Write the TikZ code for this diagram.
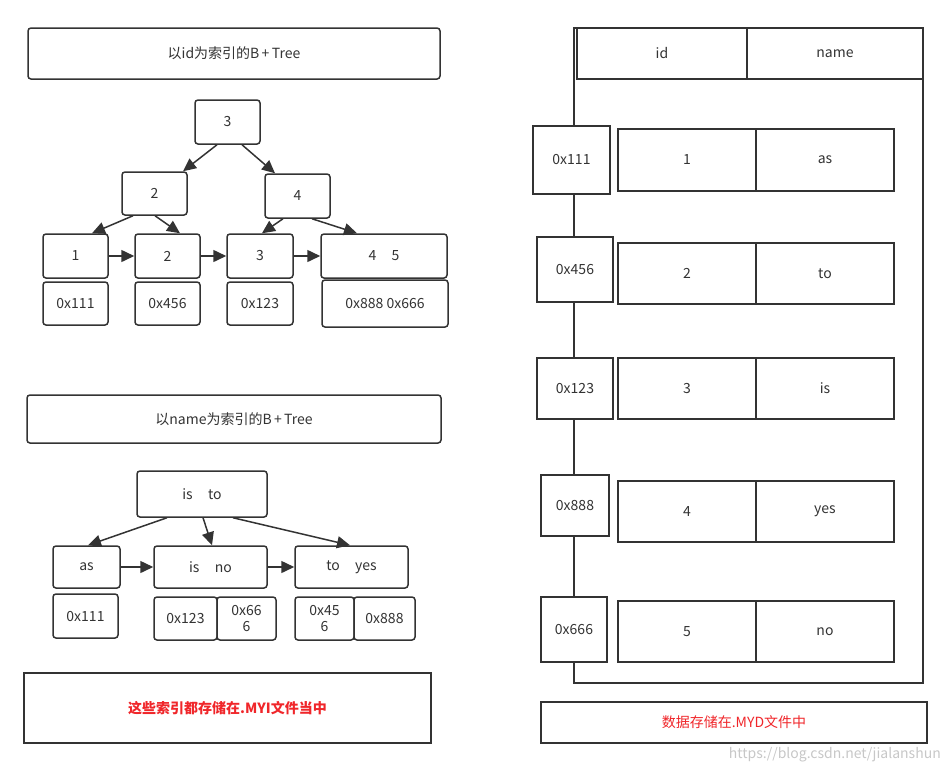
\documentclass[tikz,border=0pt]{standalone}
\usepackage{fontspec}
\setmainfont{Noto Sans CJK SC}
\usetikzlibrary{arrows.meta,calc}
\definecolor{ln}{HTML}{333333}
\definecolor{redtxt}{HTML}{F0262A}
\newcommand{\myfs}{\fontsize{14}{16}\selectfont}
\begin{document}
\begin{tikzpicture}[x=1pt,y=-1pt,
  rbox/.style={draw=ln, line width=1.5pt, rounded corners=3pt, fill=white, inner sep=0pt, font=\myfs, text=ln, align=center},
  sbox/.style={draw=ln, line width=1.5pt, fill=white, inner sep=0pt, font=\myfs, text=ln, align=center},
  arr/.style={draw=ln, line width=1.5pt, -{Triangle[length=13pt,width=12pt]}},
  frame/.style={draw=ln, line width=1.5pt}]
\useasboundingbox (0,0) rectangle (946,772);

% ---------- id B+Tree ----------
\node[rbox, minimum width=412pt, minimum height=51pt] (t1) at (234,53.5) {以id为索引的B\,+\,Tree};
\node[rbox, minimum width=65pt, minimum height=44pt] (r3) at (227.5,122) {3};
\node[rbox, minimum width=65pt, minimum height=43pt] (n2) at (154.5,193.5) {2};
\node[rbox, minimum width=65pt, minimum height=44pt] (n4) at (297.5,196) {4};
\node[rbox, minimum width=65pt, minimum height=44pt] (l1) at (75.5,256) {1};
\node[rbox, minimum width=65pt, minimum height=44pt] (l2) at (167.5,256) {2};
\node[rbox, minimum width=66pt, minimum height=44pt] (l3) at (260,256) {3};
\node[rbox, minimum width=126pt, minimum height=44pt] (l45) at (384,256) {4\hspace{1.1em}5};
\node[rbox, minimum width=65pt, minimum height=43pt] (p1) at (75.5,303.5) {0x111};
\node[rbox, minimum width=65pt, minimum height=43pt] (p2) at (167.5,303.5) {0x456};
\node[rbox, minimum width=66pt, minimum height=43pt] (p3) at (260,303.5) {0x123};
\node[rbox, minimum width=126pt, minimum height=47pt] (p45) at (385,303.5) {0x888 0x666};

\draw[arr] ($(r3.south)+(-10.5,0)$) -- ($(n2.north)+(28.5,0)$);
\draw[arr] ($(r3.south)+(14.5,0)$) -- ($(n4.north)+(-22.5,0)$);
\draw[arr] ($(n2.south)+(-21.5,0)$) -- ($(l1.north)+(16.5,0)$);
\draw[arr] ($(n2.south)+(0.5,0)$) -- ($(l2.north)+(12.5,0)$);
\draw[arr] ($(n4.south)+(-14.5,0)$) -- ($(l3.north)+(2,0)$);
\draw[arr] ($(n4.south)+(14.5,0)$) -- ($(l45.north)+(-27,0)$);
\draw[arr] (l1.east) -- (l2.west);
\draw[arr] (l2.east) -- (l3.west);
\draw[arr] (l3.east) -- (l45.west);

% ---------- name B+Tree ----------
\node[rbox, minimum width=414pt, minimum height=48pt] (t2) at (234,419) {以name为索引的B\,+\,Tree};
\node[rbox, minimum width=130pt, minimum height=46pt] (qr) at (202,494) {is\hspace{1.1em}to};
\node[rbox, minimum width=67pt, minimum height=42pt] (qas) at (86.5,567) {as};
\node[rbox, minimum width=113pt, minimum height=42pt] (qisno) at (210.5,567) {is\hspace{1.1em}no};
\node[rbox, minimum width=113pt, minimum height=42pt] (qtoyes) at (351.5,567) {to\hspace{1.1em}yes};
\node[rbox, minimum width=65pt, minimum height=44pt] (qp1) at (85.5,616) {0x111};
\node[rbox, minimum width=63pt, minimum height=43pt] (qp123) at (185.5,618.5) {0x123};
\node[rbox, minimum width=59pt, minimum height=43pt] (qp666) at (246.5,618.5) {0x66\\6};
\node[rbox, minimum width=59pt, minimum height=43pt] (qp456) at (324.5,618.5) {0x45\\6};
\node[rbox, minimum width=61pt, minimum height=43pt] (qp888) at (384.5,618.5) {0x888};

\draw[arr] ($(qr.south)+(-35,0)$) -- ($(qas.north)+(1.5,0)$);
\draw[arr] ($(qr.south)+(1,0)$) -- ($(qisno.north)+(1.5,0)$);
\draw[arr] ($(qr.south)+(31,0)$) -- ($(qtoyes.north)+(-1.5,0)$);
\draw[arr] (qas.east) -- (qisno.west);
\draw[arr] (qisno.east) -- (qtoyes.west);

\node[sbox, minimum width=407pt, minimum height=70pt, text=redtxt, font=\myfs\bfseries] (myi) at (227.5,708) {这些索引都存储在.MYI文件当中};

% ---------- data file ----------
\draw[frame] (574,28) rectangle (923,683);
\node[sbox, minimum width=170pt, minimum height=51pt] (hid) at (662,53.5) {id};
\node[sbox, minimum width=176pt, minimum height=51pt] (hname) at (835,53.5) {name};

\node[sbox, minimum width=77pt, minimum height=68pt] (a1) at (571.5,160) {0x111};
\node[sbox, minimum width=76pt, minimum height=65pt] (a2) at (575,269.5) {0x456};
\node[sbox, minimum width=76pt, minimum height=61pt] (a3) at (575,388.5) {0x123};
\node[sbox, minimum width=68pt, minimum height=61pt] (a4) at (575,505.5) {0x888};
\node[sbox, minimum width=66pt, minimum height=65pt] (a5) at (574,629.5) {0x666};

\node[sbox, minimum width=138pt, minimum height=62pt] (d1a) at (687,160) {1};
\node[sbox, minimum width=138pt, minimum height=62pt] (d1b) at (825,160) {as};
\node[sbox, minimum width=138pt, minimum height=61pt] (d2a) at (687,273.5) {2};
\node[sbox, minimum width=138pt, minimum height=61pt] (d2b) at (825,273.5) {to};
\node[sbox, minimum width=138pt, minimum height=61pt] (d3a) at (687,388.5) {3};
\node[sbox, minimum width=138pt, minimum height=61pt] (d3b) at (825,388.5) {is};
\node[sbox, minimum width=138pt, minimum height=61pt] (d4a) at (687,511.5) {4};
\node[sbox, minimum width=138pt, minimum height=61pt] (d4b) at (825,511.5) {yes};
\node[sbox, minimum width=138pt, minimum height=61pt] (d5a) at (687,631.5) {5};
\node[sbox, minimum width=138pt, minimum height=61pt] (d5b) at (825,631.5) {no};

\node[sbox, minimum width=386pt, minimum height=41pt, text=redtxt] (myd) at (734,722.5) {数据存储在.MYD文件中};

\node[anchor=east, inner sep=0pt, text=black!22, font=\fontsize{14}{16}\selectfont] (wm) at (941,755) {https://blog.csdn.net/jialanshun};
\end{tikzpicture}
\end{document}
